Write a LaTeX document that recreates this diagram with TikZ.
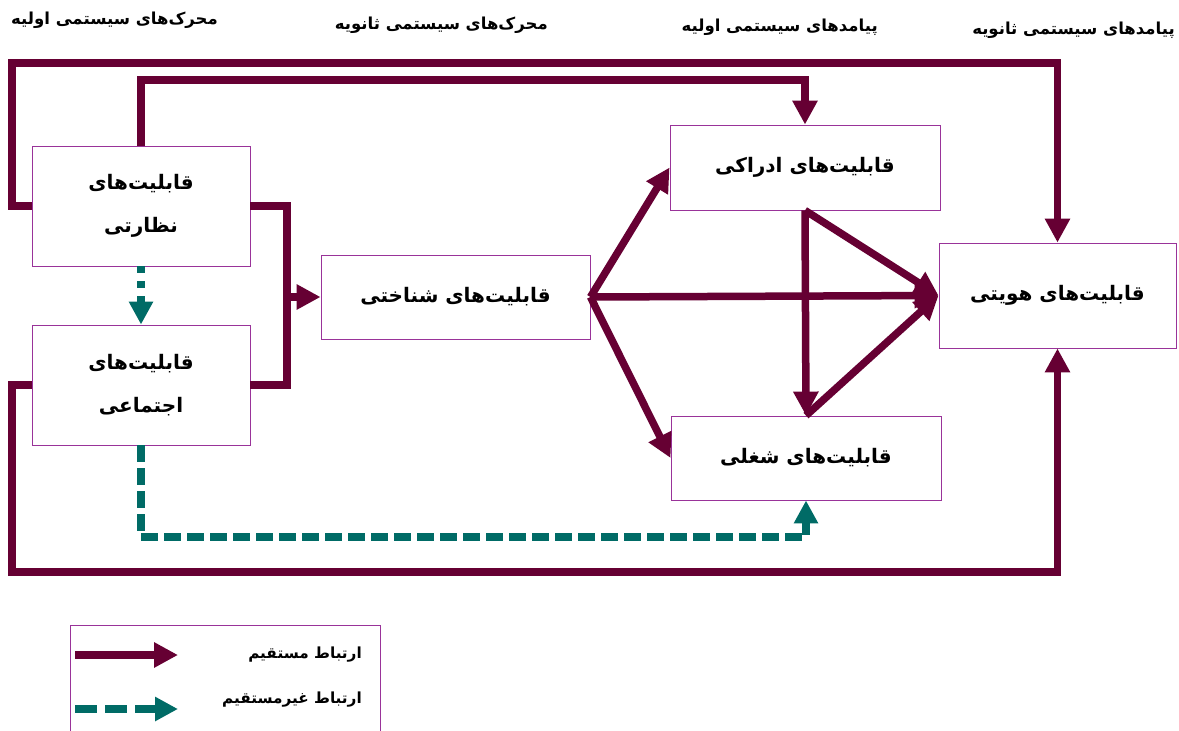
\documentclass[tikz,border=0pt]{standalone}
\usepackage{fontspec}
\newfontfamily\farsifont[Script=Arabic]{DejaVu Sans}
\TeXXeTstate=1
\usepackage{tikz}
\usetikzlibrary{arrows.meta,positioning}
\definecolor{maroonline}{HTML}{660033}
\definecolor{tealline}{HTML}{006B66}
\definecolor{framepurple}{HTML}{993399}
\newcommand{\fatext}[1]{\beginR #1\endR}

\begin{document}
\begin{tikzpicture}[x=1pt,y=-1pt,
  box/.style={draw=framepurple,line width=0.9pt,align=center,inner sep=0pt,
    font=\farsifont\bfseries\fontsize{20}{43}\selectfont},
  head/.style={anchor=east,inner sep=0pt,font=\farsifont\bfseries\fontsize{16.5}{18}\selectfont},
  legtext/.style={anchor=east,inner sep=0pt,font=\farsifont\bfseries\fontsize{15.3}{17}\selectfont},
  link/.style={maroonline,line width=7.5pt},
  arr/.style={link,-{Triangle[length=24pt,width=24pt]}},
  dashlink/.style={tealline,line width=7.5pt,dash pattern=on 17pt off 6pt,-{Triangle[length=23pt,width=23pt]}}]
\useasboundingbox (0,0) rectangle (1179,731);
% headers
\node[head] (h1) at (218,20) {\fatext{محرک‌های سیستمی اولیه}};
\node[head] (h2) at (548,25) {\fatext{محرک‌های سیستمی ثانویه}};
\node[head] (h3) at (878,27) {\fatext{پیامدهای سیستمی اولیه}};
\node[head] (h4) at (1175,30) {\fatext{پیامدهای سیستمی ثانویه}};
% boxes
\node[box,minimum width=218pt,minimum height=120pt] (nezarati) at (141,206)
  {\fatext{قابلیت‌های}\\\fatext{نظارتی}};
\node[box,minimum width=218pt,minimum height=120pt] (ejtemaei) at (141,385)
  {\fatext{قابلیت‌های}\\\fatext{اجتماعی}};
\node[box,minimum width=269pt,minimum height=84pt] (shenakhti) at (455.5,297)
  {\fatext{قابلیت‌های شناختی}};
\node[box,minimum width=270pt,minimum height=85pt] (edraki) at (805,167.5)
  {\fatext{قابلیت‌های ادراکی}};
\node[box,minimum width=270pt,minimum height=84pt] (shoghli) at (806,458)
  {\fatext{قابلیت‌های شغلی}};
\node[box,minimum width=237pt,minimum height=105pt] (hoviati) at (1057.5,295.5)
  {\fatext{قابلیت‌های هویتی}};
% corners of the loops
\coordinate (outertop) at (12,63);
\coordinate (innertop) at (0,80);
\coordinate (outerbot) at (12,572);
\coordinate (dashbot) at (0,537);
\coordinate (bus) at (287,0);
% direct links
\draw[arr] (nezarati.west) -| (outertop) -| (hoviati.north);
\draw[arr] (nezarati.north) -- (nezarati.north |- innertop) -| (edraki.north);
\draw[link] (nezarati.east) -| (bus |- ejtemaei.east) -- (ejtemaei.east);
\draw[arr] (bus |- shenakhti.west) -- (shenakhti.west);
\draw[arr] (ejtemaei.west) -| (outerbot) -| (hoviati.south);
\draw[arr] (shenakhti.east) -- (edraki.west);
\draw[arr] (shenakhti.east) -- (hoviati.west);
\draw[arr] (shenakhti.east) -- (shoghli.west);
\draw[arr] (edraki.south) -- (shoghli.north);
\draw[arr] (edraki.south) -- (hoviati.west);
\draw[arr] (shoghli.north) -- (hoviati.west);
% indirect links
\draw[dashlink,dash pattern=on 7pt off 8pt] (nezarati.south) -- (ejtemaei.north);
\draw[dashlink] (ejtemaei.south) -- (ejtemaei.south |- dashbot) -| (shoghli.south);
% legend
\node[draw=framepurple,line width=0.9pt,minimum width=310pt,minimum height=120pt] (legend) at (225,685) {};
\coordinate (solidA) at (75,655);
\coordinate (solidB) at (178,655);
\coordinate (dashA) at (75,709);
\coordinate (dashB) at (178,709);
\draw[arr] (solidA) -- (solidB);
\draw[dashlink,dash pattern=on 22pt off 8pt] (dashA) -- (dashB);
\node[legtext] (directlabel) at (362,655) {\fatext{ارتباط مستقیم}};
\node[legtext] (indirectlabel) at (362,700) {\fatext{ارتباط غیرمستقیم}};
\end{tikzpicture}
\end{document}
